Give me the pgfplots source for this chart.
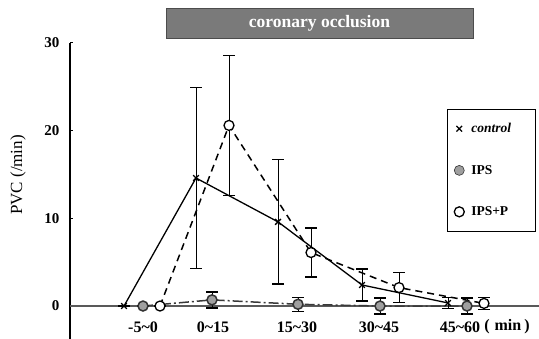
\documentclass[border=0pt]{standalone}
\usepackage{pgfplots}
\pgfplotsset{compat=1.18}
\usepackage{pgfplotstable}
\usepackage{fontspec}
\setmainfont{Liberation Serif}

\pgfplotstableread{
x y e
124 0 0
196 14.6 10.3
278 9.6 7.1
362 2.4 1.8
448 0.35 0.65
}\control
\pgfplotstableread{
x y e
143 0 0
212 0.7 0.9
298 0.2 0.8
380 0 0.9
467 0 0.9
}\ips
\pgfplotstableread{
x y e
160 0 0
229 20.6 8.0
311 6.1 2.8
399 2.1 1.7
484 0.3 0.7
}\ipsp

\begin{document}
\begin{tikzpicture}[x=1pt,y=1pt]
\useasboundingbox (0,0) rectangle (539,339);
\begin{axis}[
  at={(70pt,0pt)}, anchor=south west,
  scale only axis, width=469pt, height=296pt,
  xmin=70, xmax=539, ymin=-3.76, ymax=30,
  axis lines=left,
  axis line style={-, line width=2pt},
  x axis line style={draw=none},
  clip=false,
  ytick={0,10,20,30},
  /pgf/number format/assume math mode=true,
  yticklabel style={font=\fontsize{15}{15}\selectfont\bfseries, xshift=-7pt},
  ytick style={line width=1pt, black},
  tick align=inside, major tick length=3pt,
  xtick={143,213,297,379,460,507},
  xticklabels={-5\textasciitilde0, 0\textasciitilde15, 15\textasciitilde30, 30\textasciitilde45, 45\textasciitilde60, (\hspace{5pt}min\hspace{3pt})},
  xtick style={draw=none},
  xticklabel style={font=\fontsize{16}{16}\selectfont\bfseries, anchor=center, yshift=12pt},
  ylabel={PVC (/min)},
  ylabel style={at={(axis description cs:-0.111,0.554)}, anchor=center, font=\fontsize{17}{17}\selectfont},
  legend style={at={(axis description cs:0.8038,0.777)}, anchor=north west, draw=black, line width=0.6pt,
    inner xsep=7pt, inner ysep=12pt, row sep=27pt, column sep=5pt, fill=white,
    font=\fontsize{13.5}{13.5}\selectfont\bfseries},
  legend cell align=left,
]
% zero line
\addplot[forget plot, color=gray!70!black, line width=1.5pt] coordinates {(70,0) (539,0)};
% IPS
\addplot[forget plot, color=gray!45!black, line width=1.5pt, dash pattern=on 10pt off 3pt on 2pt off 3pt,
  mark=*, mark size=5pt, mark options={solid, fill=gray!75, draw=gray!40!black},
  error bars/.cd, y dir=both, y explicit,
  error bar style={solid, line width=1pt, black},
  error mark options={solid, rotate=90, mark size=6pt, line width=1.5pt, black}]
  table[x=x, y=y, y error=e] {\ips};
% control
\addplot[forget plot, black, line width=1.3pt, mark=x, mark size=4pt,
  error bars/.cd, y dir=both, y explicit,
  error bar style={line width=1pt, black},
  error mark options={rotate=90, mark size=6pt, line width=1.5pt, black}]
  table[x=x, y=y, y error=e] {\control};
% IPS+P
\addplot[forget plot, black, line width=1.5pt, dash pattern=on 7pt off 5pt,
  mark=*, mark size=5pt, mark options={solid, fill=white, draw=black, line width=1.3pt},
  error bars/.cd, y dir=both, y explicit,
  error bar style={solid, line width=1pt, black},
  error mark options={solid, rotate=90, mark size=6pt, line width=1.5pt, black}]
  table[x=x, y=y, y error=e] {\ipsp};

\addlegendimage{only marks, mark=x, mark size=4pt, black, line width=1.2pt}
\addlegendentry{\makebox[55pt][l]{\textit{control}}}
\addlegendimage{only marks, mark=*, mark size=5pt, mark options={fill=gray!75, draw=gray!40!black}}
\addlegendentry{\makebox[55pt][l]{IPS}}
\addlegendimage{only marks, mark=*, mark size=5pt, mark options={fill=white, draw=black, line width=1.3pt}}
\addlegendentry{\makebox[55pt][l]{IPS+P}}
\end{axis}
\node[fill=black!52, draw=black!70, line width=0.8pt, minimum width=307pt, minimum height=30pt,
  text=white, font=\fontsize{17.5}{17.5}\selectfont\bfseries] at (319.5,316) {coronary occlusion};
\end{tikzpicture}
\end{document}
